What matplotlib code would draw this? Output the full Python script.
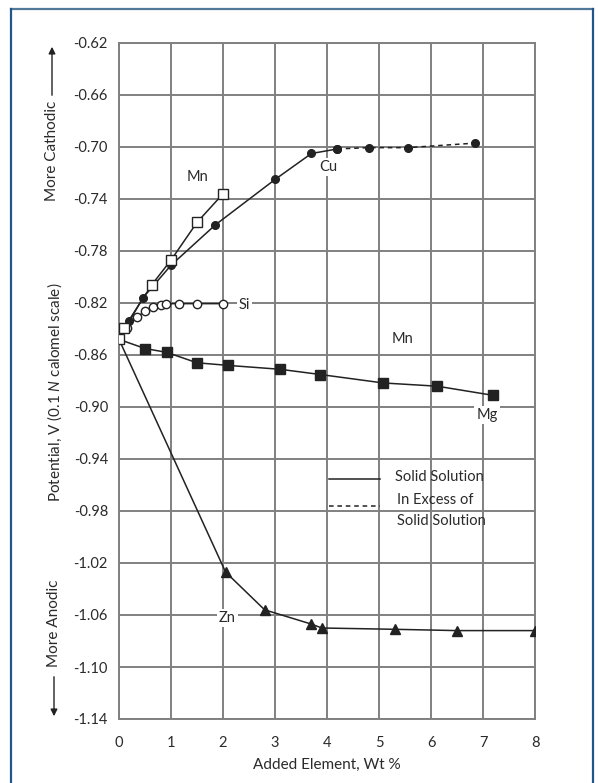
import matplotlib
matplotlib.use("Agg")
import matplotlib.pyplot as plt
from matplotlib.patches import Rectangle

plt.rcParams['font.family'] = ['Lato', 'DejaVu Sans']
plt.rcParams['mathtext.fontset'] = 'custom'
plt.rcParams['mathtext.it'] = 'Lato:italic'
plt.rcParams['mathtext.rm'] = 'Lato'

# ---- data ----
cu_x = [0, 0.2, 0.46, 1.0, 1.85, 3.0, 3.7, 4.2]
cu_y = [-0.848, -0.834, -0.816, -0.791, -0.760, -0.725, -0.705, -0.7015]
cu_ex_x = [4.2, 4.8, 5.55, 6.85]
cu_ex_y = [-0.7015, -0.7005, -0.7005, -0.697]

mn_x = [0, 0.1, 0.63, 1.0, 1.5, 2.0]
mn_y = [-0.848, -0.839, -0.806, -0.787, -0.758, -0.736]

si_x = [0, 0.15, 0.35, 0.5, 0.65, 0.8, 0.9, 1.15, 1.5, 2.0]
si_y = [-0.848, -0.839, -0.831, -0.826, -0.823, -0.8215, -0.8205, -0.8205, -0.8205, -0.8205]

mg_x = [0, 0.5, 0.92, 1.5, 2.1, 3.1, 3.87, 5.08, 6.12, 7.19]
mg_y = [-0.848, -0.855, -0.858, -0.866, -0.868, -0.871, -0.875, -0.8815, -0.884, -0.891]

zn_x = [0, 2.05, 2.8, 3.7, 3.9, 5.3, 6.5, 8.0]
zn_y = [-0.848, -1.027, -1.056, -1.067, -1.070, -1.071, -1.072, -1.072]

x_ticks = [0, 1, 2, 3, 4, 5, 6, 7, 8]
y_ticks = [-0.62, -0.66, -0.70, -0.74, -0.78, -0.82, -0.86, -0.90, -0.94,
           -0.98, -1.02, -1.06, -1.10, -1.14]
y_tick_labels = ["-0.62", "-0.66", "-0.70", "-0.74", "-0.78", "-0.82", "-0.86",
                 "-0.90", "-0.94", "-0.98", "-1.02", "-1.06", "-1.10", "-1.14"]

labels = [("Mn", 1.5, -0.723), ("Cu", 4.02, -0.7155), ("Si", 2.3, -0.8215),
          ("Mn", 5.46, -0.848), ("Mg", 7.08, -0.906), ("Zn", 2.08, -1.062)]

# ---- figure ----
fig = plt.figure(figsize=(5.98, 7.83), dpi=100)
ax = fig.add_axes([119/598, 1-719/783, (535-119)/598, (719-43)/783])

grid_c = '#808080'
txt_c = '#2a2a2a'
ax.set_xlim(0, 8)
ax.set_ylim(-1.14, -0.62)
ax.set_xticks(x_ticks)
ax.set_yticks(y_ticks)
ax.set_yticklabels(y_tick_labels)
ax.grid(True, color=grid_c, lw=1.4, zorder=0)
for s in ax.spines.values():
    s.set_color(grid_c)
    s.set_linewidth(1.4)
ax.tick_params(length=0, labelsize=10.5, colors=txt_c)
ax.tick_params(axis='x', pad=12)
ax.tick_params(axis='y', pad=8)

line_c = '#222222'
lw = 1.1
# white box for legend (break grid)
ax.add_patch(Rectangle((3.83, -0.996), 7.37-3.83, 0.0615, facecolor='white',
                       edgecolor='none', zorder=1))

ax.plot(zn_x, zn_y, color=line_c, lw=lw, marker='^', ms=6.5, mfc=line_c,
        mec=line_c, zorder=3, markevery=list(range(1, len(zn_x))))
ax.plot(mg_x, mg_y, color=line_c, lw=lw, marker='s', ms=6.5, mfc=line_c,
        mec=line_c, zorder=3, markevery=list(range(1, len(mg_x))))
ax.plot(cu_x, cu_y, color=line_c, lw=lw, marker='o', ms=5.5, mfc=line_c,
        mec=line_c, zorder=4, markevery=list(range(1, len(cu_x))))
ax.plot(cu_ex_x, cu_ex_y, color=line_c, lw=lw, ls=(0, (3, 2.5)), marker='o',
        ms=5.5, mfc=line_c, mec=line_c, zorder=4)
ax.plot(si_x, si_y, color=line_c, lw=lw, marker='o', ms=6, mfc='white',
        mec=line_c, mew=1, zorder=5, markevery=list(range(1, len(si_x))))
ax.plot(mn_x, mn_y, color=line_c, lw=lw, marker='s', ms=7, mfc='white',
        mec=line_c, mew=1, zorder=6)

for txt, x, y in labels:
    ha = 'left' if txt == 'Si' else 'center'
    ax.text(x, y, txt, fontsize=10.5, color=txt_c, ha=ha, va='center',
            zorder=7, bbox=dict(facecolor='white', edgecolor='none', pad=1.5))

# legend
ax.plot([4.04, 5.02], [-0.955, -0.955], color=line_c, lw=lw, zorder=7)
ax.plot([4.04, 5.02], [-0.976, -0.976], color=line_c, lw=lw, ls=(0, (3, 2.5)),
        zorder=7)
ax.text(5.31, -0.954, "Solid Solution", fontsize=10.5, color=txt_c,
        ha='left', va='center', zorder=7)
ax.text(5.35, -0.9715, "In Excess of", fontsize=10.5, color=txt_c,
        ha='left', va='center', zorder=7)
ax.text(5.35, -0.988, "Solid Solution", fontsize=10.5, color=txt_c,
        ha='left', va='center', zorder=7)

# axis labels
fig.text(327/598, 1-765/783, "Added Element, Wt %", fontsize=11,
         color=txt_c, ha='center', va='center')
fig.text(55/598, 1-392/783, r"Potential, V (0.1 $\it{N}$ calomel scale)",
         fontsize=11, color=txt_c, rotation=90, ha='center', va='center')
fig.text(52/598, 1-151/783, "More Cathodic", fontsize=11, color=txt_c,
         rotation=90, ha='center', va='center')
fig.text(54/598, 1-623/783, "More Anodic", fontsize=11, color=txt_c,
         rotation=90, ha='center', va='center')
fig.add_artist(matplotlib.patches.FancyArrowPatch(
    (52/598, 1-98/783), (52/598, 1-44/783), transform=fig.transFigure,
    arrowstyle='-|>,head_length=4,head_width=2', color='#222222', lw=1))
fig.add_artist(matplotlib.patches.FancyArrowPatch(
    (54/598, 1-674/783), (54/598, 1-719/783), transform=fig.transFigure,
    arrowstyle='-|>,head_length=4,head_width=2', color='#222222', lw=1))

# outer frame
fig.add_artist(plt.Line2D([11/598, 593/598], [1-9/783, 1-9/783],
                          transform=fig.transFigure, color='#527a98', lw=1.6))
fig.add_artist(plt.Line2D([11/598, 11/598], [1-9/783, -0.01],
                          transform=fig.transFigure, color='#22558a', lw=1.6))
fig.add_artist(plt.Line2D([593/598, 593/598], [1-9/783, -0.01],
                          transform=fig.transFigure, color='#22558a', lw=1.6))

fig.savefig("out.png", dpi=100)
